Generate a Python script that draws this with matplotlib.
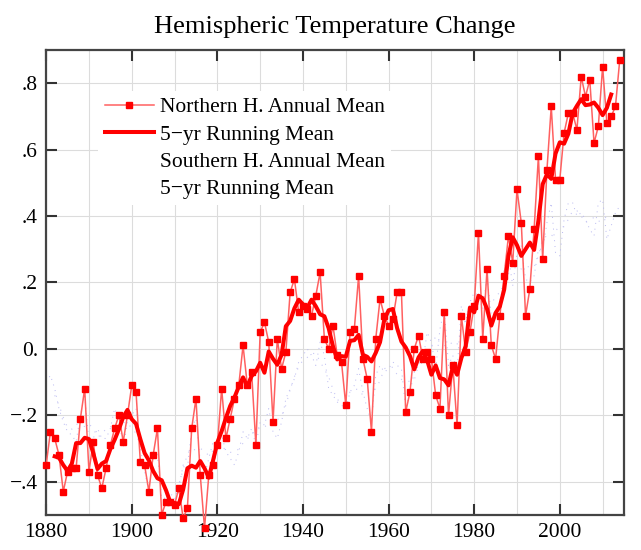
import numpy as np
import matplotlib
matplotlib.use("Agg")
import matplotlib.pyplot as plt
from matplotlib.lines import Line2D

plt.rcParams["font.family"] = ["Liberation Serif", "DejaVu Serif"]

# years of the annual series
years = np.arange(1880, 2015)
# years of the 5-yr running mean (centred)
years_5yr = np.arange(1882, 2013)

nh_annual = [
    -0.35, -0.25, -0.27, -0.32, -0.43, -0.37, -0.36, -0.36, -0.21, -0.12,  # 1880s
    -0.37, -0.28, -0.38, -0.42, -0.36, -0.29, -0.24, -0.20, -0.28, -0.20,  # 1890s
    -0.11, -0.13, -0.34, -0.35, -0.43, -0.32, -0.24, -0.50, -0.46, -0.46,  # 1900s
    -0.47, -0.42, -0.51, -0.48, -0.24, -0.15, -0.38, -0.54, -0.38, -0.35,  # 1910s
    -0.29, -0.12, -0.27, -0.21, -0.15, -0.11, 0.01, -0.11, -0.07, -0.29,   # 1920s
    0.05, 0.08, 0.02, -0.22, 0.03, -0.06, -0.01, 0.17, 0.21, 0.11,         # 1930s
    0.13, 0.12, 0.10, 0.16, 0.23, 0.03, 0.00, 0.07, -0.02, -0.04,          # 1940s
    -0.17, 0.05, 0.06, 0.22, -0.03, -0.09, -0.25, 0.03, 0.15, 0.10,        # 1950s
    0.07, 0.09, 0.17, 0.17, -0.19, -0.13, 0.00, 0.04, -0.03, -0.01,        # 1960s
    -0.03, -0.14, -0.18, 0.11, -0.20, -0.05, -0.23, 0.10, -0.01, 0.05,     # 1970s
    0.13, 0.35, 0.03, 0.24, 0.01, -0.03, 0.10, 0.22, 0.34, 0.26,           # 1980s
    0.48, 0.38, 0.10, 0.18, 0.36, 0.58, 0.27, 0.54, 0.73, 0.51,            # 1990s
    0.51, 0.65, 0.71, 0.71, 0.66, 0.82, 0.76, 0.81, 0.62, 0.67,            # 2000s
    0.85, 0.68, 0.70, 0.73, 0.87,                                          # 2010s
]

nh_5yr = [
    -0.324, -0.328, -0.350, -0.368, -0.346, -0.284, -0.284, -0.268,
    -0.272, -0.314, -0.362, -0.346, -0.338, -0.302, -0.274, -0.242, -0.206, -0.184,
    -0.212, -0.226, -0.272, -0.314, -0.336, -0.368, -0.390, -0.396, -0.426, -0.462,
    -0.464, -0.468, -0.424, -0.360, -0.352, -0.358, -0.338, -0.360, -0.388, -0.336,
    -0.282, -0.248, -0.208, -0.172, -0.146, -0.114, -0.086, -0.114, -0.082, -0.068,
    -0.042, -0.072, -0.008, -0.030, -0.048, -0.018, 0.068, 0.084, 0.122, 0.148,
    0.134, 0.124, 0.148, 0.128, 0.104, 0.098, 0.062, 0.008, -0.032, -0.022,
    -0.024, 0.024, 0.026, 0.042, -0.018, -0.024, -0.038, -0.012, 0.020, 0.088,
    0.116, 0.120, 0.062, 0.022, 0.004, -0.022, -0.062, -0.026, -0.006, -0.034,
    -0.078, -0.050, -0.088, -0.092, -0.110, -0.054, -0.078, -0.028, 0.008, 0.124,
    0.110, 0.160, 0.152, 0.120, 0.070, 0.108, 0.128, 0.178, 0.280, 0.336,
    0.312, 0.280, 0.300, 0.320, 0.298, 0.386, 0.496, 0.526, 0.512, 0.588,
    0.622, 0.618, 0.648, 0.710, 0.732, 0.752, 0.734, 0.736, 0.742, 0.726,
    0.704, 0.726, 0.766,
]

sh_annual = [
    -0.10, -0.08, -0.12, -0.18, -0.22, -0.25, -0.26, -0.28, -0.20, -0.14,
    -0.28, -0.27, -0.24, -0.27, -0.27, -0.24, -0.18, -0.21, -0.30, -0.22,
    -0.20, -0.18, -0.30, -0.37, -0.43, -0.31, -0.32, -0.45, -0.45, -0.46,
    -0.45, -0.42, -0.35, -0.36, -0.24, -0.21, -0.34, -0.38, -0.33, -0.28,
    -0.28, -0.26, -0.31, -0.33, -0.35, -0.31, -0.25, -0.27, -0.24, -0.29,
    -0.22, -0.23, -0.18, -0.25, -0.27, -0.22, -0.15, -0.12, -0.09, -0.04,
    -0.02, 0.00, -0.02, -0.05, 0.02, -0.02, -0.12, -0.14, -0.16, -0.17,
    -0.18, -0.13, -0.11, -0.06, -0.13, -0.18, -0.22, -0.08, -0.05, -0.07,
    -0.06, -0.04, -0.05, -0.06, -0.18, -0.13, -0.07, -0.05, -0.04, 0.05,
    0.02, -0.06, 0.06, 0.12, -0.05, -0.02, -0.07, 0.13, 0.08, 0.14,
    0.17, 0.16, 0.12, 0.22, 0.10, 0.10, 0.13, 0.24, 0.28, 0.19,
    0.29, 0.31, 0.21, 0.20, 0.22, 0.30, 0.30, 0.38, 0.44, 0.29,
    0.28, 0.39, 0.44, 0.44, 0.40, 0.41, 0.39, 0.36, 0.34, 0.44,
    0.45, 0.33, 0.37, 0.41, 0.43,
]

sh_5yr = [
    -0.140, -0.170, -0.206, -0.238, -0.242, -0.226, -0.232, -0.234,
    -0.226, -0.240, -0.266, -0.258, -0.240, -0.234, -0.240, -0.230, -0.222, -0.222,
    -0.240, -0.254, -0.296, -0.318, -0.346, -0.376, -0.392, -0.398, -0.426, -0.446,
    -0.426, -0.408, -0.364, -0.316, -0.300, -0.306, -0.300, -0.308, -0.322, -0.306,
    -0.292, -0.292, -0.306, -0.312, -0.310, -0.302, -0.284, -0.272, -0.254, -0.250,
    -0.232, -0.234, -0.230, -0.230, -0.214, -0.202, -0.170, -0.124, -0.084, -0.054,
    -0.034, -0.026, -0.014, -0.014, -0.038, -0.062, -0.084, -0.122, -0.154, -0.156,
    -0.150, -0.130, -0.122, -0.122, -0.140, -0.134, -0.132, -0.120, -0.096, -0.060,
    -0.054, -0.056, -0.078, -0.092, -0.098, -0.098, -0.094, -0.048, -0.018, -0.016,
    0.006, 0.038, 0.018, 0.010, 0.008, 0.022, 0.014, 0.052, 0.090, 0.136,
    0.134, 0.162, 0.154, 0.140, 0.134, 0.158, 0.170, 0.188, 0.226, 0.262,
    0.256, 0.240, 0.246, 0.248, 0.246, 0.280, 0.328, 0.342, 0.338, 0.356,
    0.368, 0.368, 0.390, 0.416, 0.416, 0.400, 0.380, 0.388, 0.396, 0.384,
    0.386, 0.400, 0.398,
]

fig = plt.figure(figsize=(6.41, 5.5), dpi=100)
ax = fig.add_axes([0.072, 0.064, 0.9015, 0.845])

# southern hemisphere: drawn very faint, as in the original
ax.plot(years, sh_annual, color="#b8b8f0", lw=0.7, ls=(0, (1, 5)), zorder=2)
ax.plot(years_5yr, sh_5yr, color="#c8c8f4", lw=0.8, ls=(0, (1, 6)), zorder=2)

# northern hemisphere
ax.plot(years, nh_annual, color="#ff6060", lw=1.1, marker="s", ms=5,
        mfc="#ff0000", mec="#ff0000", zorder=3, clip_on=False)
ax.plot(years_5yr, nh_5yr, color="#ff0000", lw=2.9, zorder=4)

ax.set_xlim(1880, 2015)
ax.set_ylim(-0.5, 0.9)

ax.set_xticks(np.arange(1880, 2001, 20))
ax.set_xticks(np.arange(1890, 2015, 10), minor=True)
ax.set_yticks([-0.4, -0.2, 0.0, 0.2, 0.4, 0.6, 0.8])
ax.set_yticklabels(["\u2212.4", "\u2212.2", "0.", ".2", ".4", ".6", ".8"])

ax.grid(True, which="both", axis="x", color="#dcdcdc", lw=0.8, zorder=0)
ax.grid(True, which="major", axis="y", color="#dcdcdc", lw=0.8, zorder=0)
ax.set_axisbelow(True)

ax.tick_params(axis="both", which="major", direction="in", length=8, width=1.5,
               top=True, right=True, labelsize=15.5, colors="#333333",
               labelcolor="black", pad=6)
ax.tick_params(axis="x", which="minor", length=0)
for s in ax.spines.values():
    s.set_linewidth(1.6)
    s.set_color("#444444")

ax.set_title("Hemispheric Temperature Change", fontsize=19, pad=12)

handles = [
    Line2D([], [], color="#ff6060", lw=1.1, marker="s", ms=5,
           mfc="#ff0000", mec="#ff0000"),
    Line2D([], [], color="#ff0000", lw=2.9),
    Line2D([], [], color="white", lw=1),
    Line2D([], [], color="white", lw=1),
]
labels = ["Northern H. Annual Mean", "5\u2212yr Running Mean",
          "Southern H. Annual Mean", "5\u2212yr Running Mean"]
leg = ax.legend(handles, labels, loc="upper left", bbox_to_anchor=(0.09, 0.912),
                fontsize=15.5, frameon=True, facecolor="white", edgecolor="none",
                framealpha=1, handlelength=2.3, handletextpad=0.25,
                labelspacing=0.33, borderaxespad=0, borderpad=0.3, fancybox=False)
leg.set_zorder(5)

fig.savefig("out.png", dpi=100)
